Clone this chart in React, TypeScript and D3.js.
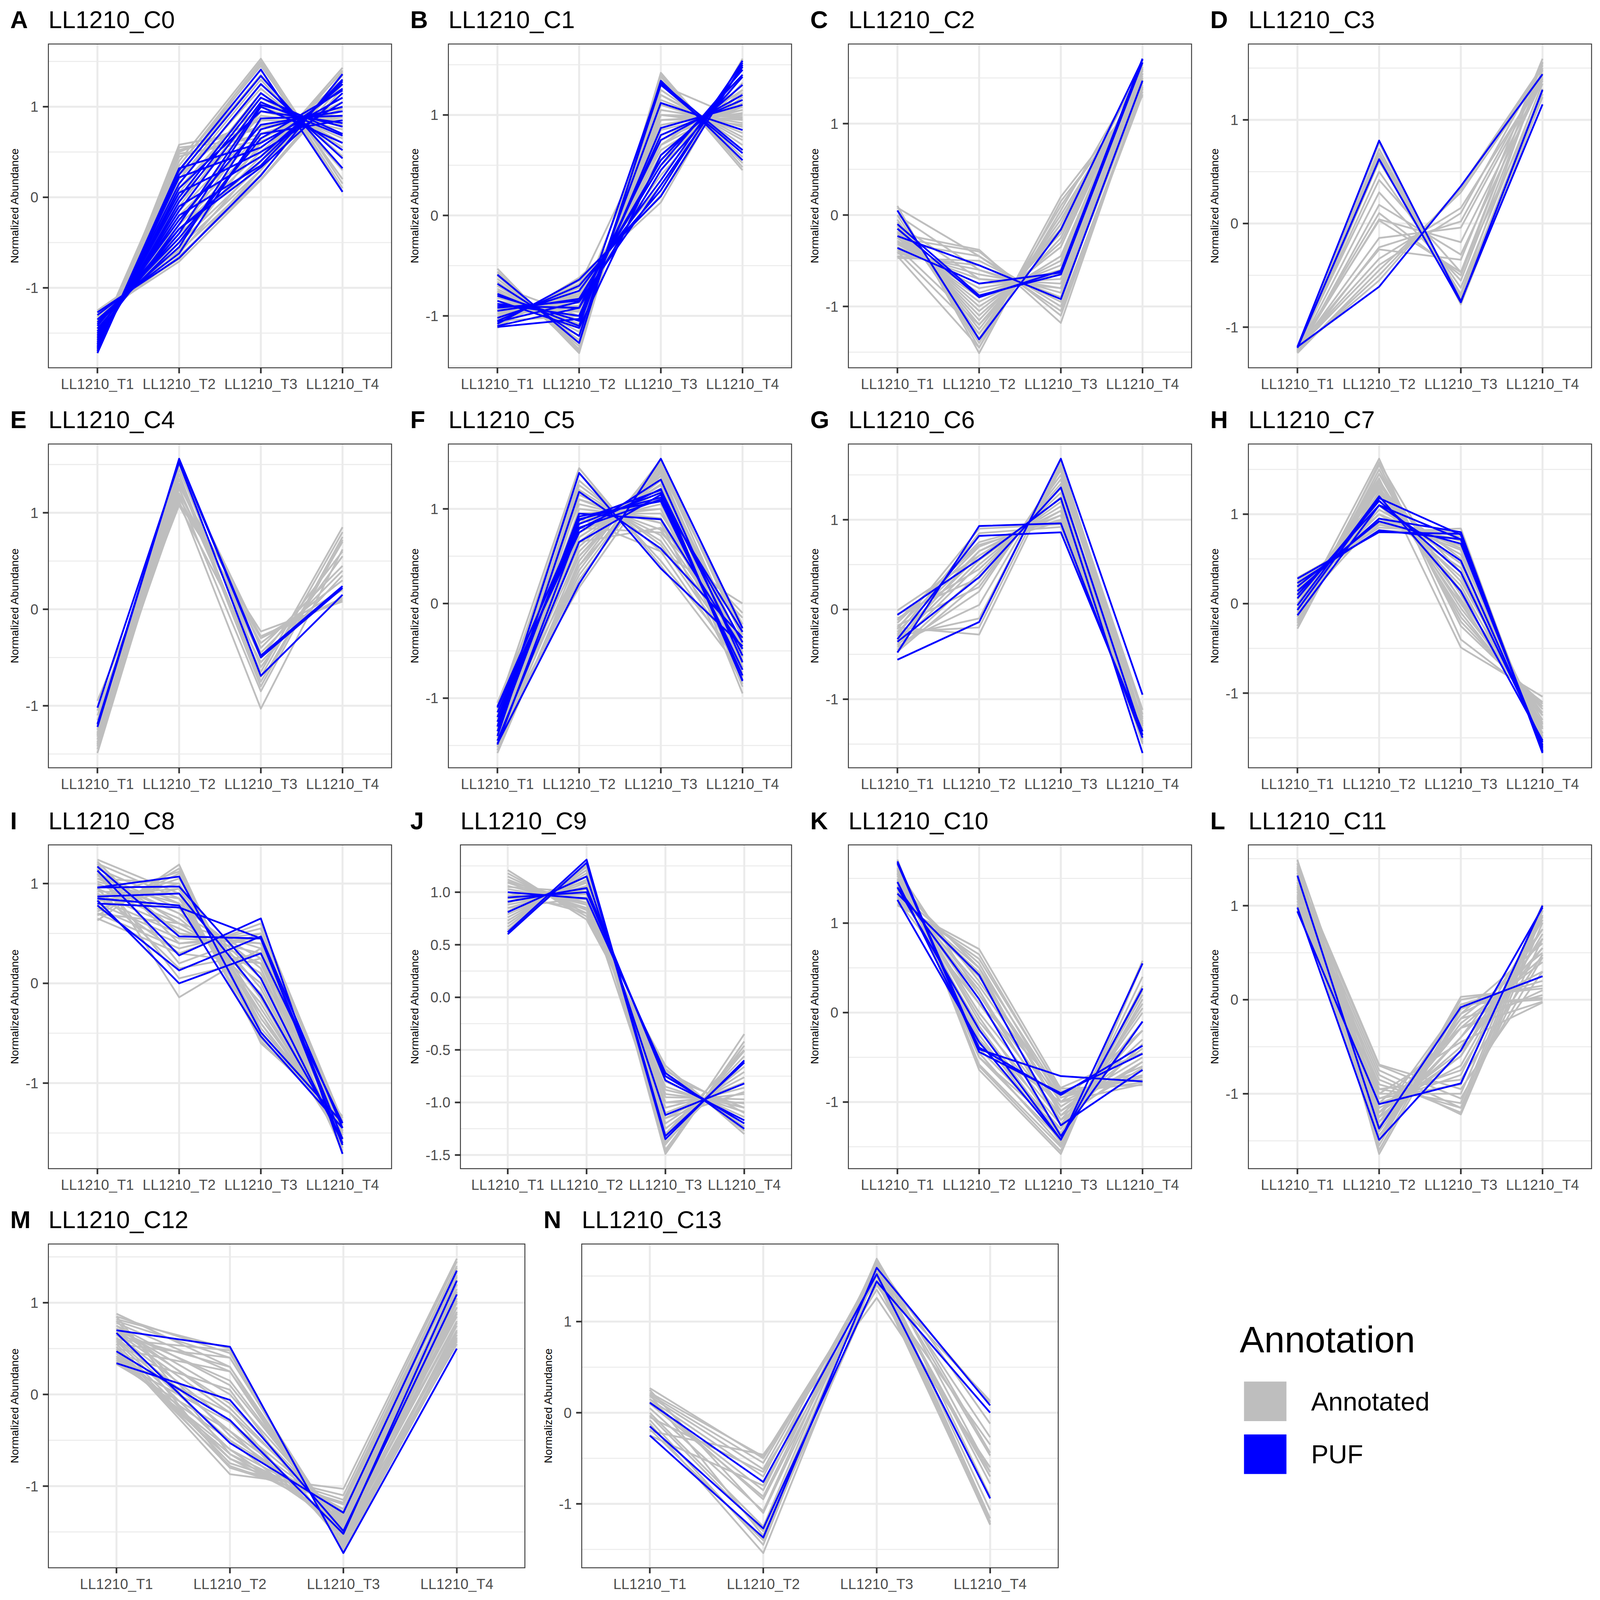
import React from 'react';
import * as d3 from 'd3';

type Row = [number, number, number, number];

const timepoints = ['LL1210_T1', 'LL1210_T2', 'LL1210_T3', 'LL1210_T4'];
const yTicksDefault = [-1, 0, 1];
const yTickLabelsDefault = ['-1', '0', '1'];
const yTicksC9 = [-1.5, -1.0, -0.5, 0.0, 0.5, 1.0];
const yTickLabelsC9 = ['-1.5', '-1.0', '-0.5', '0.0', '0.5', '1.0'];
const legendTitle = 'Annotation';
const legendLabels = ['Annotated', 'PUF'];
const legendColors = ['#BEBEBE', '#0000FF'];

const C0_annotated: Row[] = [
  [-1.72, 0.58, 0.75, 0.95], [-1.70, 0.55, 0.65, 1.05], [-1.69, 0.50, 0.85, 0.85], [-1.68, 0.45, 0.70, 0.95],
  [-1.66, 0.40, 1.53, 0.15], [-1.65, 0.35, 1.45, 0.20], [-1.63, 0.30, 1.35, 0.30], [-1.62, 0.20, 1.20, 0.45],
  [-1.60, 0.10, 1.10, 0.60], [-1.58, 0.00, 0.95, 0.75], [-1.56, -0.05, 0.90, 0.80], [-1.55, -0.15, 0.80, 0.90],
  [-1.53, -0.20, 0.70, 1.00], [-1.51, -0.25, 0.60, 1.10], [-1.50, -0.30, 0.55, 1.20], [-1.48, -0.35, 0.50, 1.30],
  [-1.46, -0.40, 0.40, 1.43], [-1.44, -0.45, 0.45, 1.38], [-1.42, -0.50, 0.35, 1.40], [-1.40, -0.55, 0.30, 1.35],
  [-1.37, -0.60, 0.25, 1.30], [-1.34, -0.65, 0.20, 1.25], [-1.30, -0.71, 0.19, 1.20], [-1.27, -0.68, 0.30, 1.30],
  [-1.25, -0.62, 0.40, 1.25], [-1.28, -0.58, 0.60, 1.10], [-1.32, -0.50, 0.70, 1.00], [-1.36, -0.40, 0.85, 0.85],
  [-1.40, -0.30, 0.95, 0.75], [-1.45, -0.10, 1.05, 0.65], [-1.50, 0.05, 1.15, 0.55], [-1.55, 0.15, 1.25, 0.45],
  [-1.60, 0.25, 1.00, 0.70], [-1.64, 0.35, 1.50, 0.10], [-1.52, 0.20, 1.30, 0.30], [-1.58, 0.48, 0.62, 0.98],
  [-1.66, 0.52, 0.78, 0.88], [-1.62, 0.28, 1.48, 0.06],
];
const C0_puf: Row[] = [
  [-1.72, 0.30, 1.41, 0.06], [-1.70, 0.32, 0.60, 1.10], [-1.68, 0.25, 1.34, 0.32], [-1.66, 0.22, 0.55, 1.20],
  [-1.64, 0.15, 1.25, 0.43], [-1.62, 0.05, 0.50, 1.05], [-1.60, 0.00, 1.15, 0.52], [-1.58, -0.10, 0.45, 1.25],
  [-1.56, -0.15, 1.05, 0.68], [-1.54, -0.20, 0.35, 1.30], [-1.52, -0.30, 1.02, 0.78], [-1.50, -0.35, 0.33, 1.15],
  [-1.45, -0.40, 1.00, 0.60], [-1.40, -0.50, 0.70, 0.85], [-1.35, -0.55, 0.87, 0.90], [-1.30, -0.62, 0.75, 1.00],
  [-1.27, -0.67, 0.24, 1.36], [-1.66, 0.10, 0.95, 0.82], [-1.48, -0.25, 0.80, 0.95], [-1.38, -0.45, 0.65, 1.18],
  [-1.62, -0.05, 1.10, 0.70], [-1.42, -0.35, 0.40, 1.28],
];

const C1_annotated: Row[] = [
  [-0.53, -1.37, 1.42, 0.48], [-0.56, -1.33, 1.38, 0.52], [-0.60, -1.30, 1.35, 0.58], [-0.63, -1.27, 1.30, 0.65],
  [-0.66, -1.24, 1.25, 0.70], [-0.70, -1.20, 1.20, 0.78], [-0.73, -1.16, 1.15, 0.82], [-0.76, -1.12, 1.10, 0.88],
  [-0.79, -1.08, 1.05, 0.92], [-0.82, -1.04, 1.00, 0.95], [-0.85, -1.00, 0.95, 1.00], [-0.88, -0.96, 0.90, 1.02],
  [-0.90, -0.93, 0.85, 1.05], [-0.92, -0.90, 0.80, 1.08], [-0.94, -0.87, 0.75, 1.10], [-0.96, -0.84, 0.70, 1.12],
  [-0.98, -0.82, 0.65, 1.15], [-1.00, -0.80, 0.60, 1.18], [-1.02, -0.78, 0.55, 1.22], [-1.04, -0.76, 0.50, 1.25],
  [-1.06, -0.72, 0.40, 1.32], [-1.08, -0.68, 0.30, 1.40], [-1.10, -0.65, 0.20, 1.50], [-1.12, -0.62, 0.13, 1.56],
  [-0.95, -0.95, 1.20, 0.75], [-1.00, -0.90, 1.10, 0.85], [-0.90, -1.00, 1.00, 0.98], [-0.85, -1.10, 0.90, 1.05],
  [-0.75, -1.20, 1.30, 0.95], [-0.70, -1.00, 0.95, 0.97], [-1.05, -1.00, 0.70, 1.25], [-0.58, -1.35, 1.40, 0.45],
  [-1.10, -0.70, 1.00, 0.90],
];
const C1_puf: Row[] = [
  [-0.59, -1.27, 1.34, 0.55], [-0.68, -1.20, 1.30, 0.62], [-0.78, -1.10, 1.12, 0.85], [-0.80, -1.05, 0.87, 1.10],
  [-0.88, -1.00, 0.80, 1.15], [-0.90, -0.92, 0.75, 1.20], [-0.92, -0.85, 0.55, 1.40], [-0.95, -0.83, 0.50, 1.45],
  [-1.02, -0.75, 0.35, 1.52], [-1.05, -0.70, 0.25, 1.54], [-1.08, -0.64, 0.19, 1.50], [-1.10, -0.92, 0.45, 1.38],
  [-1.11, -1.03, 1.32, 0.65], [-0.85, -1.12, 0.60, 1.30], [-1.06, -0.86, 0.30, 1.48],
];

const C2_annotated: Row[] = [
  [0.10, -1.51, 0.15, 1.30], [0.05, -1.45, 0.20, 1.35], [0.00, -1.40, 0.10, 1.40], [-0.05, -1.35, 0.00, 1.45],
  [-0.08, -1.30, -0.05, 1.48], [-0.10, -1.25, -0.10, 1.50], [-0.12, -1.20, -0.15, 1.52], [-0.15, -1.15, -0.20, 1.55],
  [-0.18, -1.10, -0.30, 1.58], [-0.20, -1.05, -0.35, 1.60], [-0.22, -1.00, -0.45, 1.62], [-0.25, -0.95, -0.50, 1.65],
  [-0.28, -0.90, -0.55, 1.60], [-0.30, -0.85, -0.60, 1.55], [-0.32, -0.80, -0.65, 1.50], [-0.35, -0.75, -0.70, 1.45],
  [-0.38, -0.70, -0.75, 1.40], [-0.40, -0.65, -0.80, 1.42], [-0.42, -0.60, -0.85, 1.45], [-0.45, -0.55, -0.90, 1.50],
  [-0.47, -0.50, -0.95, 1.55], [-0.30, -0.45, -1.00, 1.35], [-0.25, -0.40, -1.10, 1.38], [-0.20, -0.38, -1.18, 1.40],
  [-0.45, -1.45, 0.05, 1.60], [-0.40, -1.30, -0.10, 1.62], [-0.35, -1.20, -0.25, 1.58], [0.08, -0.45, -1.05, 1.32],
  [0.00, -0.60, -0.90, 1.40], [-0.10, -0.70, -0.80, 1.55],
];
const C2_puf: Row[] = [
  [0.05, -1.36, -0.16, 1.70], [-0.10, -0.88, -0.65, 1.67], [-0.15, -0.90, -0.61, 1.71], [-0.23, -0.55, -0.92, 1.47],
  [-0.36, -0.75, -0.63, 1.71],
];

const C3_annotated: Row[] = [
  [-1.22, 0.78, -0.78, 1.22], [-1.23, 0.72, -0.74, 1.25], [-1.21, 0.68, -0.72, 1.28], [-1.24, 0.65, -0.70, 1.30],
  [-1.22, 0.50, -0.62, 1.35], [-1.20, 0.42, -0.47, 1.25], [-1.25, 0.18, -0.30, 1.38], [-1.23, 0.04, -0.18, 1.40],
  [-1.21, 0.03, -0.47, 1.55], [-1.22, -0.14, -0.04, 1.42], [-1.24, -0.23, 0.02, 1.45], [-1.21, -0.34, 0.15, 1.40],
  [-1.25, -0.45, 0.30, 1.45], [-1.23, -0.50, 0.33, 1.50], [-1.22, -0.55, 0.35, 1.52], [-1.20, -0.25, -0.35, 1.59],
  [-1.22, 0.10, -0.50, 1.56], [-1.24, 0.60, -0.68, 1.50], [-1.23, 0.30, -0.55, 1.48], [-1.21, -0.40, 0.10, 1.53],
];
const C3_puf: Row[] = [
  [-1.19, 0.80, -0.75, 1.15], [-1.20, 0.62, -0.76, 1.29], [-1.19, -0.61, 0.36, 1.44],
];

const C4_annotated: Row[] = [
  [-0.95, 1.10, -0.23, 0.08], [-1.05, 1.15, -0.30, 0.20], [-1.15, 1.20, -0.35, 0.30], [-1.25, 1.30, -0.45, 0.40],
  [-1.30, 1.35, -0.80, 0.75], [-1.35, 1.40, -0.75, 0.70], [-1.40, 1.45, -0.60, 0.55], [-1.45, 1.25, -0.65, 0.85],
  [-1.30, 1.12, -1.03, 0.62], [-1.38, 1.18, -0.85, 0.72], [-1.32, 1.50, -0.40, 0.45], [-1.28, 1.28, -0.28, 0.10],
  [-1.10, 1.08, -0.55, 0.35], [-1.42, 1.35, -0.70, 0.80], [-1.20, 1.45, -0.30, 0.12], [-1.49, 1.30, -0.50, 0.60],
];
const C4_puf: Row[] = [
  [-1.02, 1.52, -0.69, 0.15], [-1.19, 1.55, -0.50, 0.22], [-1.22, 1.56, -0.48, 0.24],
];

const C5_annotated: Row[] = [
  [-1.10, 1.43, 0.40, -0.73], [-1.20, 1.38, 0.45, -0.63], [-1.15, 1.30, 0.55, -0.70], [-1.25, 1.25, 0.62, -0.62],
  [-1.30, 1.20, 0.66, -0.56], [-1.35, 1.15, 0.72, -0.52], [-1.40, 1.10, 0.78, -0.48], [-1.05, 1.05, 0.85, -0.85],
  [-1.45, 1.00, 0.90, -0.45], [-1.50, 0.95, 0.95, -0.40], [-1.12, 0.90, 1.00, -0.78], [-1.22, 0.85, 1.05, -0.68],
  [-1.32, 0.80, 1.12, -0.60], [-1.42, 0.75, 1.18, -0.51], [-1.52, 0.70, 1.25, -0.43], [-1.18, 0.65, 1.30, -0.77],
  [-1.28, 0.60, 1.35, -0.67], [-1.38, 0.55, 1.40, -0.57], [-1.48, 0.50, 1.45, -0.47], [-1.58, 0.45, 1.50, -0.37],
  [-1.55, 0.40, 1.52, -0.37], [-1.50, 0.35, 1.48, -0.33], [-1.45, 0.30, 1.45, -0.30], [-1.40, 0.25, 1.42, -0.27],
  [-1.35, 0.17, 1.40, -0.22], [-1.20, 0.50, 1.38, -0.68], [-1.08, 0.70, 1.26, -0.88], [-1.10, 0.85, 1.20, -0.95],
  [-1.25, 0.95, 1.00, -0.70], [-1.50, 1.10, 0.85, -0.45], [-1.30, 0.40, 1.35, -0.45], [-1.45, 0.90, 0.55, 0.00],
  [-1.40, 0.80, 0.75, -0.15], [-1.35, 0.65, 0.80, -0.10],
];
const C5_puf: Row[] = [
  [-1.30, 1.38, 0.37, -0.45], [-1.40, 1.18, 0.58, -0.36], [-1.35, 0.95, 0.89, -0.48], [-1.30, 0.92, 1.08, -0.70],
  [-1.25, 0.89, 1.12, -0.76], [-1.20, 0.84, 1.17, -0.81], [-1.15, 0.79, 1.21, -0.82], [-1.10, 0.75, 1.31, -0.62],
  [-1.45, 0.65, 1.15, -0.41], [-1.48, 0.21, 1.53, -0.26], [-1.49, 0.80, 1.10, -0.30], [-1.09, 0.88, 1.20, -0.55],
];

const C6_annotated: Row[] = [
  [-0.15, 0.75, 1.00, -1.25], [-0.20, 0.70, 1.05, -1.30], [-0.25, 0.65, 1.10, -1.35], [-0.30, 0.60, 1.15, -1.40],
  [-0.35, 0.55, 1.20, -1.45], [-0.40, 0.50, 1.25, -1.35], [-0.45, 0.40, 1.35, -1.30], [-0.47, 0.30, 1.45, -1.28],
  [-0.42, 0.20, 1.55, -1.33], [-0.38, 0.05, 1.60, -1.27], [-0.30, -0.10, 1.65, -1.25], [-0.25, -0.20, 1.62, -1.17],
  [-0.20, -0.28, 1.58, -1.12], [-0.10, 0.45, 1.30, -1.50], [-0.05, 0.35, 1.40, -1.45], [-0.01, 0.60, 1.10, -1.48],
  [-0.12, 0.72, 0.98, -1.42], [-0.18, 0.25, 1.50, -1.40], [-0.28, 0.85, 0.92, -1.35], [-0.22, 0.90, 0.95, -1.20],
  [-0.35, 0.65, 1.05, -1.22],
];
const C6_puf: Row[] = [
  [-0.48, 0.93, 0.96, -1.43], [-0.33, 0.82, 0.86, -1.36], [-0.56, -0.14, 1.68, -0.95], [-0.06, 0.56, 1.24, -1.60],
  [-0.36, 0.36, 1.36, -1.40],
];

const C7_annotated: Row[] = [
  [0.29, 0.80, 0.84, -1.67], [0.25, 0.85, 0.80, -1.62], [0.20, 0.90, 0.75, -1.58], [0.15, 0.95, 0.70, -1.55],
  [0.10, 1.00, 0.62, -1.50], [0.05, 1.05, 0.55, -1.45], [0.00, 1.10, 0.45, -1.40], [-0.05, 1.15, 0.35, -1.38],
  [-0.10, 1.20, 0.25, -1.35], [-0.15, 1.25, 0.15, -1.30], [-0.20, 1.30, 0.05, -1.25], [-0.25, 1.38, -0.05, -1.22],
  [-0.28, 1.45, -0.15, -1.18], [-0.22, 1.50, -0.20, -1.15], [-0.18, 1.55, -0.25, -1.12], [-0.12, 1.62, -0.40, -1.10],
  [-0.08, 1.40, -0.49, -1.04], [0.00, 1.35, -0.10, -1.25], [0.05, 1.28, 0.00, -1.33], [0.10, 1.15, 0.20, -1.45],
  [0.15, 1.10, 0.30, -1.48], [0.20, 1.00, 0.40, -1.52], [-0.05, 0.95, 0.60, -1.60], [0.12, 0.88, 0.72, -1.64],
  [0.22, 0.82, 0.78, -1.60], [-0.15, 1.45, 0.10, -1.40], [-0.25, 1.58, 0.02, -1.35], [0.08, 1.22, 0.50, -1.55],
  [-0.02, 1.32, 0.35, -1.50], [0.18, 0.92, 0.65, -1.57],
];
const C7_puf: Row[] = [
  [0.28, 0.80, 0.78, -1.65], [0.23, 0.82, 0.72, -1.62], [0.19, 0.92, 0.67, -1.60], [0.14, 0.95, 0.80, -1.67],
  [0.10, 1.10, 0.48, -1.58], [0.06, 1.15, 0.35, -1.55], [-0.02, 1.20, 0.14, -1.53], [-0.07, 1.18, 0.77, -1.66],
  [-0.13, 1.10, 0.72, -1.64],
];

const C8_annotated: Row[] = [
  [1.24, 0.90, -0.50, -1.40], [1.20, 0.85, -0.40, -1.45], [1.15, 0.80, -0.30, -1.50], [1.10, 0.75, -0.20, -1.55],
  [1.05, 0.70, -0.10, -1.60], [1.00, 0.65, 0.00, -1.65], [0.95, 0.60, 0.10, -1.68], [0.90, 0.55, 0.20, -1.62],
  [0.85, 0.50, 0.30, -1.58], [0.80, 0.45, 0.40, -1.52], [0.75, 0.40, 0.50, -1.48], [0.70, 0.35, 0.55, -1.42],
  [0.65, 0.30, 0.60, -1.38], [0.63, 1.19, -0.60, -1.33], [0.68, 1.15, -0.55, -1.35], [0.72, 1.10, -0.45, -1.40],
  [0.78, 1.05, -0.35, -1.45], [0.82, 1.00, -0.25, -1.50], [0.88, 0.95, -0.15, -1.55], [0.92, 0.90, -0.05, -1.60],
  [0.98, 0.85, 0.05, -1.62], [1.02, 0.80, 0.15, -1.65], [1.08, 0.70, 0.25, -1.68], [1.12, 0.60, 0.35, -1.70],
  [1.18, 0.50, 0.40, -1.60], [1.22, 0.40, 0.45, -1.55], [1.20, 0.20, 0.50, -1.50], [1.15, -0.14, 0.35, -1.45],
  [1.10, 0.05, 0.25, -1.42], [0.95, 0.15, 0.30, -1.48], [0.75, 0.95, -0.58, -1.38], [0.85, 1.12, -0.40, -1.52],
  [1.05, 1.00, -0.30, -1.58], [0.70, 0.60, 0.10, -1.35], [0.90, 0.30, 0.20, -1.45],
];
const C8_puf: Row[] = [
  [1.17, 0.47, 0.45, -1.56], [1.13, 0.28, 0.65, -1.71], [0.96, 0.97, 0.05, -1.60], [0.87, 0.90, -0.12, -1.56],
  [0.83, 0.00, 0.30, -1.40], [0.78, 0.13, 0.47, -1.45], [0.96, 1.07, -0.49, -1.40], [0.85, 0.78, -0.53, -1.45],
  [0.80, 0.76, 0.45, -1.62],
];

const C9_annotated: Row[] = [
  [1.21, 0.74, -0.65, -1.30], [1.18, 0.77, -0.68, -1.27], [1.15, 0.80, -0.72, -1.23], [1.12, 0.83, -0.75, -1.20],
  [1.09, 0.85, -0.80, -1.14], [1.06, 0.88, -0.85, -1.09], [1.03, 0.90, -0.88, -1.05], [1.00, 0.93, -0.92, -1.01],
  [0.97, 0.95, -0.95, -0.97], [0.94, 0.98, -1.00, -0.92], [0.91, 1.00, -1.05, -0.86], [0.88, 1.03, -1.10, -0.81],
  [0.85, 1.06, -1.15, -0.76], [0.82, 1.09, -1.20, -0.71], [0.79, 1.12, -1.25, -0.66], [0.76, 1.15, -1.30, -0.61],
  [0.73, 1.18, -1.35, -0.56], [0.70, 1.21, -1.40, -0.51], [0.67, 1.24, -1.45, -0.46], [0.64, 1.27, -1.49, -0.42],
  [0.62, 1.25, -1.47, -0.35], [1.10, 0.90, -1.00, -1.00], [0.95, 0.85, -0.75, -1.05], [1.05, 1.00, -1.15, -0.90],
  [0.85, 0.95, -1.30, -0.50], [1.00, 0.80, -0.70, -1.10], [0.90, 1.10, -1.38, -0.62],
];
const C9_puf: Row[] = [
  [1.00, 0.94, -0.72, -1.25], [0.91, 1.04, -0.79, -1.17], [0.81, 1.15, -1.12, -0.82], [0.62, 1.31, -1.32, -0.62],
  [0.60, 1.28, -1.35, -0.60], [0.95, 1.00, -0.75, -1.20],
];

const C10_annotated: Row[] = [
  [1.20, 0.71, -0.85, -0.81], [1.25, 0.60, -0.88, -0.75], [1.28, 0.50, -0.92, -0.70], [1.32, 0.40, -0.95, -0.65],
  [1.35, 0.30, -1.00, -0.60], [1.38, 0.20, -1.05, -0.50], [1.42, 0.10, -1.10, -0.40], [1.45, 0.00, -1.15, -0.30],
  [1.48, -0.10, -1.20, -0.20], [1.50, -0.20, -1.25, -0.10], [1.53, -0.30, -1.30, 0.00], [1.56, -0.40, -1.35, 0.10],
  [1.60, -0.50, -1.42, 0.25], [1.65, -0.58, -1.50, 0.40], [1.71, -0.64, -1.58, 0.55], [1.68, -0.60, -1.55, 0.58],
  [1.22, 0.65, -0.90, -0.78], [1.30, 0.45, -1.10, -0.55], [1.40, 0.25, -1.25, -0.35], [1.45, -0.05, -1.35, -0.10],
  [1.55, -0.25, -1.45, 0.15], [1.62, -0.45, -1.48, 0.30], [1.35, 0.55, -1.00, -0.80], [1.50, 0.35, -0.95, -0.72],
  [1.60, 0.20, -1.20, -0.55], [1.25, 0.10, -0.84, -0.45], [1.58, -0.35, -1.00, -0.20], [1.65, -0.50, -1.30, 0.05],
  [1.42, 0.50, -1.15, -0.62], [1.38, -0.15, -1.40, 0.20],
];
const C10_puf: Row[] = [
  [1.69, -0.41, -0.71, -0.77], [1.67, -0.44, -0.90, -0.46], [1.46, -0.39, -0.92, -0.37], [1.26, -0.33, -1.42, 0.55],
  [1.33, 0.42, -1.26, -0.64], [1.40, 0.15, -1.38, -0.10], [1.40, -0.19, -1.42, 0.27],
];

const C11_annotated: Row[] = [
  [1.49, -1.64, -0.10, 0.25], [1.45, -1.60, -0.05, 0.20], [1.40, -1.55, 0.00, 0.15], [1.35, -1.50, 0.03, 0.12],
  [1.30, -1.45, -0.15, 0.30], [1.25, -1.40, -0.25, 0.40], [1.20, -1.35, -0.30, 0.45], [1.15, -1.30, -0.40, 0.55],
  [1.10, -1.25, -0.50, 0.65], [1.05, -1.20, -0.60, 0.75], [1.00, -1.15, -0.70, 0.85], [0.95, -1.10, -0.80, 0.95],
  [0.94, -1.05, -0.90, 1.01], [1.00, -1.00, -1.00, 1.00], [1.05, -0.95, -1.10, 1.00], [1.10, -0.90, -1.15, 0.95],
  [1.15, -0.85, -1.20, 0.90], [1.20, -0.80, -1.22, 0.82], [1.25, -0.75, -1.15, 0.65], [1.30, -0.70, -1.05, 0.45],
  [1.35, -0.69, -0.95, 0.30], [1.40, -1.20, -0.30, 0.10], [1.45, -1.30, -0.20, 0.05], [1.38, -1.35, -0.05, 0.02],
  [1.42, -1.10, -0.30, -0.02], [1.48, -1.00, -0.45, -0.03], [1.28, -1.25, -0.05, 0.00], [1.18, -1.45, -0.20, 0.50],
  [1.08, -1.50, -0.15, 0.60], [1.22, -1.20, -0.55, 0.55], [1.12, -1.05, -0.75, 0.70], [1.32, -0.95, -0.85, 0.48],
  [0.98, -1.25, -0.60, 0.88], [1.02, -1.35, -0.40, 0.75],
];
const C11_puf: Row[] = [
  [0.94, -1.11, -0.89, 1.00], [0.98, -1.49, -0.54, 0.98], [1.32, -1.37, -0.08, 0.25],
];

const C12_annotated: Row[] = [
  [0.88, 0.30, -1.60, 0.55], [0.85, 0.45, -1.65, 0.62], [0.82, 0.50, -1.70, 0.58], [0.80, 0.40, -1.55, 0.70],
  [0.78, 0.25, -1.50, 0.80], [0.75, 0.10, -1.45, 0.85], [0.72, 0.00, -1.40, 0.90], [0.70, -0.10, -1.38, 0.95],
  [0.68, -0.20, -1.35, 1.00], [0.65, -0.30, -1.32, 1.05], [0.62, -0.40, -1.30, 1.10], [0.60, -0.50, -1.28, 1.15],
  [0.58, -0.60, -1.25, 1.20], [0.55, -0.70, -1.20, 1.30], [0.52, -0.75, -1.15, 1.40], [0.50, -0.80, -1.10, 1.45],
  [0.48, -0.87, -1.03, 1.48], [0.45, -0.78, -1.20, 1.38], [0.42, -0.70, -1.35, 1.35], [0.40, -0.65, -1.40, 1.25],
  [0.38, -0.60, -1.45, 1.20], [0.35, -0.50, -1.50, 1.10], [0.33, -0.40, -1.55, 1.00], [0.36, -0.30, -1.58, 0.90],
  [0.40, -0.20, -1.62, 0.95], [0.45, 0.05, -1.65, 0.75], [0.50, 0.25, -1.60, 0.68], [0.55, 0.40, -1.58, 0.60],
  [0.60, 0.48, -1.68, 0.65], [0.65, 0.30, -1.52, 0.78], [0.70, 0.15, -1.48, 0.88], [0.75, -0.15, -1.42, 1.02],
  [0.80, -0.45, -1.33, 1.12], [0.85, -0.65, -1.25, 1.28], [0.72, -0.80, -1.18, 1.33],
];
const C12_puf: Row[] = [
  [0.70, 0.52, -1.73, 0.50], [0.67, -0.53, -1.29, 1.35], [0.47, -0.28, -1.52, 1.24], [0.34, -0.06, -1.49, 1.09],
];

const C13_annotated: Row[] = [
  [0.27, -0.50, 1.45, -1.22], [0.22, -0.48, 1.50, -1.23], [0.20, -0.55, 1.55, -1.20], [0.18, -0.62, 1.60, -1.16],
  [0.15, -0.70, 1.62, -1.07], [0.12, -0.85, 1.65, -0.92], [0.10, -0.92, 1.60, -0.78], [0.05, -1.08, 1.68, -0.65],
  [0.00, -1.25, 1.69, -0.44], [-0.03, -1.30, 1.60, -0.27], [-0.08, -1.45, 1.65, -0.12], [-0.12, -1.54, 1.55, 0.11],
  [-0.18, -1.40, 1.45, 0.13], [-0.20, -0.46, 1.26, -0.60], [-0.25, -0.80, 1.40, -0.35], [0.25, -1.10, 1.55, -0.70],
  [0.20, -1.35, 1.62, -0.47], [-0.05, -0.65, 1.35, -0.65], [0.15, -0.95, 1.50, -0.70],
];
const C13_puf: Row[] = [
  [0.11, -0.76, 1.52, -0.94], [-0.15, -1.27, 1.44, 0.00], [-0.25, -1.37, 1.59, 0.08],
];

const panelTags = ['A', 'B', 'C', 'D', 'E', 'F', 'G', 'H', 'I', 'J', 'K', 'L', 'M', 'N'];
const panelTitles = [
  'LL1210_C0', 'LL1210_C1', 'LL1210_C2', 'LL1210_C3', 'LL1210_C4', 'LL1210_C5', 'LL1210_C6',
  'LL1210_C7', 'LL1210_C8', 'LL1210_C9', 'LL1210_C10', 'LL1210_C11', 'LL1210_C12', 'LL1210_C13',
];
const annotatedSets = [
  C0_annotated, C1_annotated, C2_annotated, C3_annotated, C4_annotated, C5_annotated, C6_annotated,
  C7_annotated, C8_annotated, C9_annotated, C10_annotated, C11_annotated, C12_annotated, C13_annotated,
];
const pufSets = [
  C0_puf, C1_puf, C2_puf, C3_puf, C4_puf, C5_puf, C6_puf, C7_puf, C8_puf, C9_puf, C10_puf, C11_puf, C12_puf, C13_puf,
];

const FONT = '"Liberation Sans", Arial, Helvetica, sans-serif';
const GREY = '#BEBEBE';
const BLUE = '#0000FF';

function charW(s: string) {
  let w = 0;
  for (const c of s) {
    if (c === '-') w += 0.333;
    else if (c === '.') w += 0.278;
    else w += 0.556;
  }
  return w;
}

type PanelProps = {
  tag: string; title: string; annotated: Row[]; puf: Row[];
  ticks: number[]; labels: string[]; x0: number; y0: number; w: number;
};

function Panel({ tag, title, annotated, puf, ticks, labels, x0, y0, w }: PanelProps) {
  const tickFont = 65;
  const labelW = Math.max(...labels.map(charW)) * tickFont;
  const left = x0 + 83 + 32 + labelW + 45;
  const right = x0 + w - 38;
  const top = y0 + 198;
  const bottom = y0 + 1655;
  const xs = d3.scalePoint<string>().domain(timepoints).range([left, right]).padding(0.6);
  const all = [...annotated, ...puf].flat();
  const [mn, mx] = d3.extent(all) as [number, number];
  const pad = (mx - mn) * 0.05;
  const ys = d3.scaleLinear().domain([mn - pad, mx + pad]).range([bottom, top]);
  const step = ticks[1] - ticks[0];
  const minor: number[] = [];
  for (let v = ticks[0] - step / 2; v <= ticks[ticks.length - 1] + step / 2 + 1e-9; v += step) {
    if (v >= mn - pad && v <= mx + pad && !ticks.some(t => Math.abs(t - v) < 1e-9)) minor.push(v);
  }
  const line = d3.line<number>()
    .x((_, i) => xs(timepoints[i]) as number)
    .y(v => ys(v));
  const cy = (top + bottom) / 2;
  return (
    <g>
      <text x={x0 + 46} y={y0 + 127} fontSize={110} fontWeight="bold" fontFamily={FONT} fill="#000">{tag}</text>
      <text x={left} y={y0 + 127} fontSize={110} fontFamily={FONT} fill="#000">{title}</text>
      <rect x={left} y={top} width={right - left} height={bottom - top} fill="#FFFFFF" />
      {minor.map((v, i) => (
        <line key={'mi' + i} x1={left} x2={right} y1={ys(v)} y2={ys(v)} stroke="#EBEBEB" strokeWidth={4.5} />
      ))}
      {ticks.map((v, i) => (
        <line key={'ma' + i} x1={left} x2={right} y1={ys(v)} y2={ys(v)} stroke="#EBEBEB" strokeWidth={9} />
      ))}
      {timepoints.map((t, i) => (
        <line key={'mx' + i} x1={xs(t)} x2={xs(t)} y1={top} y2={bottom} stroke="#EBEBEB" strokeWidth={9} />
      ))}
      {annotated.map((r, i) => (
        <path key={'g' + i} d={line(r) || ''} fill="none" stroke={GREY} strokeWidth={8} strokeLinejoin="round" />
      ))}
      {puf.map((r, i) => (
        <path key={'b' + i} d={line(r) || ''} fill="none" stroke={BLUE} strokeWidth={8} strokeLinejoin="round" />
      ))}
      <rect x={left} y={top} width={right - left} height={bottom - top} fill="none" stroke="#333333" strokeWidth={4} />
      {ticks.map((v, i) => (
        <g key={'yt' + i}>
          <line x1={left - 25} x2={left} y1={ys(v)} y2={ys(v)} stroke="#333333" strokeWidth={7.5} />
          <text x={left - 45} y={ys(v)} dy="0.355em" textAnchor="end" fontSize={tickFont} fontFamily={FONT} fill="#4D4D4D">{labels[i]}</text>
        </g>
      ))}
      {timepoints.map((t, i) => (
        <g key={'xt' + i}>
          <line x1={xs(t)} x2={xs(t)} y1={bottom} y2={bottom + 25} stroke="#333333" strokeWidth={7.5} />
          <text x={xs(t)} y={bottom + 95} textAnchor="middle" fontSize={tickFont} fontFamily={FONT} fill="#4D4D4D">{t}</text>
        </g>
      ))}
      <text transform={`translate(${x0 + 83},${cy}) rotate(-90)`} textAnchor="middle" fontSize={50} fontFamily={FONT} fill="#000">Normalized Abundance</text>
    </g>
  );
}

function Legend() {
  const keyX = 5598;
  const keyYs = [6217, 6455];
  return (
    <g fontFamily={FONT}>
      <text x={5579} y={6085} fontSize={165} fill="#000">{legendTitle}</text>
      {legendLabels.map((lab, i) => (
        <g key={lab}>
          <rect x={keyX} y={keyYs[i]} width={191} height={178} fill={legendColors[i]} />
          <text x={5900} y={keyYs[i] + 130} fontSize={117} fill="#000">{lab}</text>
        </g>
      ))}
    </g>
  );
}

export default function App() {
  const rowY = [0, 1800, 3604, 5400];
  const panels = panelTags.map((tag, i) => {
    let x0: number, y0: number, w: number;
    if (i < 12) {
      x0 = (i % 4) * 1800; y0 = rowY[Math.floor(i / 4)]; w = 1800;
    } else {
      x0 = (i - 12) * 2400; y0 = rowY[3]; w = 2400;
    }
    const isC9 = i === 9;
    return (
      <Panel key={tag} tag={tag} title={panelTitles[i]} annotated={annotatedSets[i]} puf={pufSets[i]}
        ticks={isC9 ? yTicksC9 : yTicksDefault} labels={isC9 ? yTickLabelsC9 : yTickLabelsDefault}
        x0={x0} y0={y0} w={w} />
    );
  });
  return (
    <svg viewBox="0 0 7200 7200" preserveAspectRatio="xMinYMin meet"
      style={{ position: 'fixed', left: 0, top: 0, width: '100vw', height: '100vh', display: 'block', background: '#fff' }}>
      <rect x={0} y={0} width={7200} height={7200} fill="#FFFFFF" />
      {panels}
      <Legend />
    </svg>
  );
}
